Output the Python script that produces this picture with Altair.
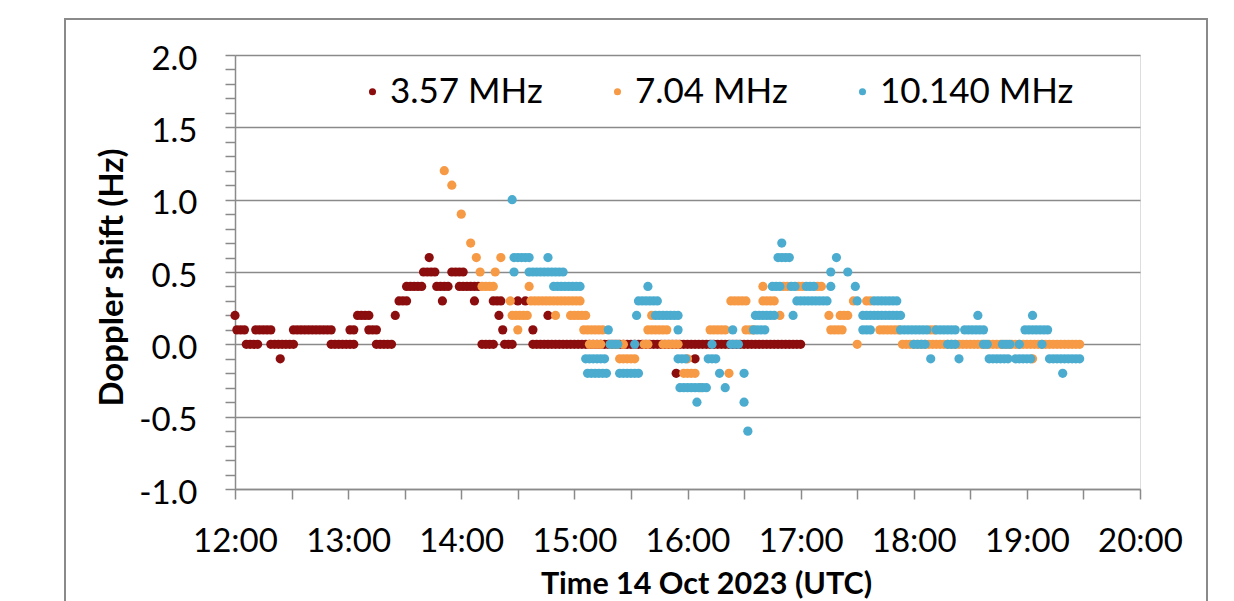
import altair as alt
import pandas as pd

series_names = ["3.57 MHz", "7.04 MHz", "10.140 MHz"]
series_colors = ["#8B0D0D", "#F79A46", "#4BACCF"]

# Minutes after 12:00 UTC, grouped by Doppler shift (Hz)
red_rows = [
    (0.6, [103]),
    (0.5, [100, 102, 104, 106, 115, 117, 119, 121]),
    (0.4, [91, 93, 95, 97, 99, 107, 109, 111, 113, 119, 121, 123, 125, 127, 129]),
    (0.3, [87, 89, 91, 110, 127, 137, 139, 141, 150, 154]),
    (0.2, [0, 65, 67, 69, 71, 85, 140, 166]),
    (0.1, [1, 3, 5, 11, 13, 15, 17, 19, 31, 33, 35, 37, 39, 41, 43, 45, 47, 49, 51,
           61, 63, 71, 73, 75, 142, 158]),
    (0.0, [6, 8, 10, 12, 19, 21, 23, 25, 27, 29, 31, 51, 53, 55, 57, 59, 61, 63,
           75, 77, 79, 81, 83, 131, 133, 135, 137, 143, 145, 147,
           158, 160, 162, 164, 166, 168, 170, 172, 174, 176, 178, 180, 182, 184,
           186, 188, 190, 192, 194, 196, 198, 200, 202, 204, 206, 208, 210, 212,
           214, 216, 218, 220, 222, 224, 226, 228, 230, 232, 234, 236, 238, 240,
           242, 244, 246, 248, 250, 252, 254, 256, 258, 260, 262, 264, 266, 268,
           270, 272, 274, 276, 278, 280, 282, 284, 286, 288, 290, 292, 294, 296,
           298, 300]),
    (-0.1, [24, 244]),
    (-0.2, [234]),
]

orange_rows = [
    (1.2, [111]),
    (1.1, [115]),
    (0.9, [120]),
    (0.7, [125]),
    (0.6, [128, 141]),
    (0.5, [130, 138]),
    (0.4, [131, 133, 135, 137, 156, 280, 291, 293, 299, 301, 309, 311]),
    (0.3, [146, 157, 159, 161, 163, 165, 167, 169, 171, 173, 175, 177, 179, 181, 183,
           263, 265, 267, 269, 271, 280, 282, 284, 286, 328, 335, 337]),
    (0.2, [147, 149, 151, 153, 155, 170, 178, 180, 182, 184, 186, 221, 289, 315,
           321, 323, 325]),
    (0.1, [150, 185, 187, 189, 191, 193, 195, 219, 221, 223, 225, 227, 229,
           252, 254, 256, 258, 260, 271, 273, 275, 316, 318, 320, 322,
           342, 344, 346, 348, 350, 352, 369, 371]),
    (0.0, [188, 190, 192, 194, 199, 201, 203, 206, 217, 219, 227, 229, 231, 233, 235,
           330, 354, 356, 358, 360, 362, 364, 366, 368, 370, 372, 374, 376, 378,
           380, 382, 384, 386, 388, 390, 392, 394, 396, 398, 400, 402, 404, 406,
           408, 410, 412, 414, 416, 418, 420, 422, 424, 426, 428, 430, 432, 434,
           436, 438, 440, 442, 444, 446, 448]),
    (-0.1, [204, 206, 208, 210, 212, 240, 423]),
    (-0.2, [238, 240, 242, 244, 262]),
    (-0.3, [247]),
]

cyan_rows = [
    (1.0, [147]),
    (0.7, [290]),
    (0.6, [148, 150, 152, 154, 156, 166, 288, 290, 292, 294, 319]),
    (0.5, [148, 156, 158, 160, 162, 164, 166, 168, 170, 172, 174, 316, 325]),
    (0.4, [169, 171, 173, 175, 177, 179, 181, 183, 219, 285, 287, 289, 295, 297,
           303, 305, 307, 316, 329]),
    (0.3, [214, 216, 218, 220, 222, 224, 298, 300, 302, 304, 306, 308, 310, 312, 314,
           330, 339, 341, 343, 345, 347, 349, 351]),
    (0.2, [213, 223, 225, 227, 229, 231, 233, 235, 276, 278, 280, 282, 284, 286, 296,
           333, 335, 337, 339, 341, 343, 345, 347, 349, 351, 353, 394, 423]),
    (0.1, [198, 235, 264, 275, 277, 279, 281, 333, 335, 337, 353, 355, 357, 359,
           361, 363, 365, 367, 372, 374, 376, 378, 380, 382, 387, 389, 391, 393,
           395, 397, 419, 421, 423, 425, 427, 429, 431]),
    (0.0, [199, 201, 203, 212, 253, 263, 265, 267, 360, 362, 364, 366, 378, 380,
           382, 397, 399, 407, 409, 411, 416, 428]),
    (-0.1, [186, 188, 190, 192, 194, 196, 235, 237, 239, 251, 253, 255, 369, 384,
            400, 402, 404, 406, 408, 410, 414, 416, 418, 420, 422, 432, 434, 436,
            438, 440, 442, 444, 446, 448]),
    (-0.2, [187, 189, 191, 193, 195, 197, 204, 206, 208, 210, 212, 214, 257, 270, 439]),
    (-0.3, [236, 238, 240, 242, 244, 246, 248, 250, 260]),
    (-0.4, [245, 270]),
    (-0.6, [272]),
]

x_tick_minutes = [0, 30, 60, 90, 120, 150, 180, 210, 240, 270, 300, 330, 360, 390, 420, 450, 480]
y_tick_values = [round(-1.0 + 0.1 * i, 1) for i in range(31)]

records = []
for name, rows in zip(series_names, [red_rows, orange_rows, cyan_rows]):
    for val, mins in rows:
        for m in mins:
            records.append({"minute": m, "shift": val, "band": name})
df = pd.DataFrame(records)

GRAY = "#8a8a8a"
FONT = "Lato"
half_test = "abs(datum.value * 2 - round(datum.value * 2)) < 0.01"

points = alt.Chart(df).mark_circle(size=85, opacity=1).encode(
    x=alt.X(
        "minute:Q",
        scale=alt.Scale(domain=[0, 480], nice=False, zero=False),
        axis=alt.Axis(
            values=x_tick_minutes,
            labelExpr="datum.value % 60 == 0 ? (12 + datum.value / 60) + ':00' : ''",
            grid=False,
            domainColor=GRAY, domainWidth=1.5,
            tickColor=GRAY, tickWidth=1.5, tickSize=10,
            labelFont=FONT, labelFontSize=33, labelColor="#000000",
            labelPadding=26, labelFlush=False, labelOverlap=False,
            title="Time 14 Oct 2023 (UTC)",
            titleFont=FONT, titleFontSize=30.5, titleFontWeight="bold", titleColor="#000000",
            titleX=471, titleY=95, titleBaseline="middle", titleAlign="center",
        ),
    ),
    y=alt.Y(
        "shift:Q",
        scale=alt.Scale(domain=[-1, 2], nice=False, zero=False),
        axis=alt.Axis(
            values=y_tick_values,
            labelExpr=f"{half_test} ? (datum.value < 0 ? '-' : '') + format(abs(datum.value), '.1f') : ''",
            grid=True, gridColor=GRAY, gridWidth=1.5,
            gridOpacity={"condition": {"test": half_test, "value": 1}, "value": 0},
            domainColor=GRAY, domainWidth=1.5,
            tickColor=GRAY, tickWidth=1.5, tickSize=10,
            labelFont=FONT, labelFontSize=33, labelColor="#000000",
            labelPadding=28, labelOffset=4, labelOverlap=False, labelFlush=False,
            title="Doppler shift (Hz)",
            titleFont=FONT, titleFontSize=33, titleFontWeight="bold", titleColor="#000000",
            titleX=-123, titleY=222, titleAngle=-90, titleBaseline="middle", titleAlign="center",
        ),
    ),
    color=alt.Color(
        "band:N",
        scale=alt.Scale(domain=series_names, range=series_colors),
        legend=alt.Legend(
            orient="none", legendX=120, legendY=19, direction="horizontal",
            title=None, labelFont=FONT, labelFontSize=35, labelColor="#000000",
            labelLimit=0,
            symbolType="circle", symbolSize=50, labelOffset=0, columnPadding=57,
            padding=0, symbolStrokeWidth=0, symbolOpacity=1,
        ),
    ),
)

frame = alt.Chart(pd.DataFrame({"k": [0]})).mark_rect(
    fillOpacity=0, stroke=GRAY, strokeWidth=2
).encode(
    x=alt.value(-170), x2=alt.value(972), y=alt.value(-36), y2=alt.value(560)
)

chart = alt.layer(frame, points).properties(
    width=905, height=434,
    autosize="none",
    padding={"left": 227, "top": 47, "right": 70, "bottom": 112},
).configure_view(stroke=None).configure(background="white")

chart.save("out.html", embed_options={"renderer": "svg", "actions": False})
